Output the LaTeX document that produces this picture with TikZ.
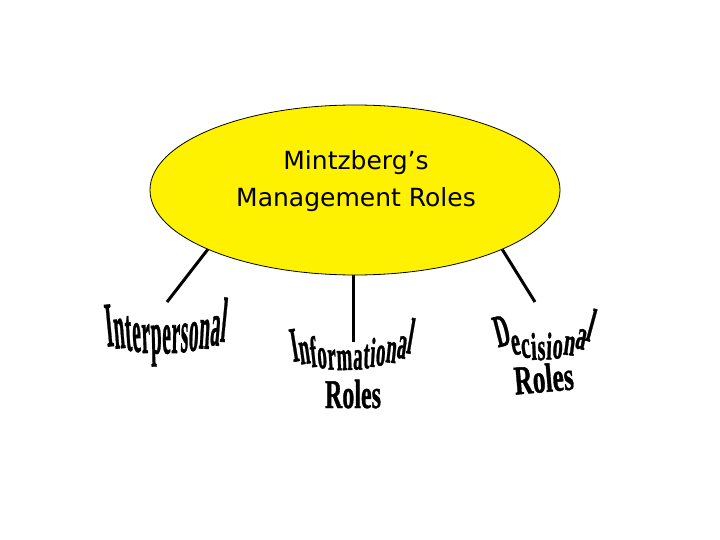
\documentclass[tikz,border=0pt]{standalone}
\usepackage{fontspec}
\usetikzlibrary{shapes.geometric,calc}
\newfontfamily\titlefont{DejaVu Sans}
\newfontfamily\wordfont{Liberation Serif}[BoldFeatures={FakeBold=1.2}]

\tikzset{
  hub/.style={ellipse, draw, line width=0.8pt, fill=yellow, inner sep=0pt,
    minimum width=410pt, minimum height=170pt},
  title/.style={font=\titlefont\fontsize{25}{37}\selectfont, align=center, inner sep=0pt},
  spoke/.style={line width=3pt},
  wordart/.style={font=\wordfont\bfseries\fontsize{#1}{#1}\selectfont, inner sep=0pt},
}

% arched word: letters stretched more towards the ends
\def\canMid{2}\def\canEnd{2.5}\def\canPow{2}\def\canDip{5}\def\canTilt{5}
\newcommand\canword[7]{% #1 size, #2 name, #3 left x, #4 right x, #5 left base, #6 right base, #7 letters
  \node[inner sep=0pt, anchor=base east] (#2-0) at (#3,#5) {};
  \foreach \ch [count=\i, remember=\i as \j (initially 0)] in {#7}
    \path let \p1=(#2-\j.base east),
              \n1={((\x1+5pt)-(#3+#4)*0.5pt)/((#4-#3)*0.5pt)},
              \n2={abs(\n1)^\canPow} in
      node[wordart=#1, anchor=base west, rotate={-\canTilt*(\n1)},
           yscale={\canMid+(\canEnd-\canMid)*min(\n2,1)}]
        (#2-\i) at (\x1,{(#5+(#6-#5)*(\n1+1)/2+\canDip*(1-(\n1)*(\n1)))*(-1pt)}) {\ch};
}

\begin{document}
\begin{tikzpicture}[x=1pt,y=-1pt]
  \useasboundingbox (0,0) rectangle (720,540);

  \node[hub] (hub) at (355,190) {};
  \node[title] (title) at (356,181) {Mintzberg’s\\Management Roles};

  % the three role groups
  \def\canMid{3.1}\def\canEnd{3.3}\def\canPow{2}\def\canDip{11}\def\canTilt{6}
  \canword{19.4}{inter}{107}{228}{345}{340}{I,n,t,e,r,p,e,r,s,o,n,a,l}

  \def\canMid{2.2}\def\canEnd{2.75}\def\canPow{3}\def\canDip{14}\def\canTilt{10}
  \canword{18.9}{info}{293}{412}{360}{352}{I,n,f,o,r,m,a,t,i,o,n,a,l}
  \node[wordart=24, yscale=1.7, anchor=base] (infoRoles) at (353,408) {Roles};

  \def\canMid{1.9}\def\canEnd{2.4}\def\canPow{3}\def\canDip{19}\def\canTilt{16}
  \canword{20.4}{dec}{498}{592}{344}{338}{D,e,c,i,s,i,o,n,a,l}
  \node[wordart=25.5, rotate=5, yscale=1.6, anchor=base] (decRoles) at (545,392) {Roles};

  \coordinate (interTop) at (167,302);
  \coordinate (infoTop) at (353,342);
  \coordinate (decTop) at (535,302);
  \draw[spoke] (hub.202) -- (interTop);
  \draw[spoke] (infoTop |- hub.south) -- (infoTop);
  \draw[spoke] (hub.338) -- (decTop);
\end{tikzpicture}
\end{document}
